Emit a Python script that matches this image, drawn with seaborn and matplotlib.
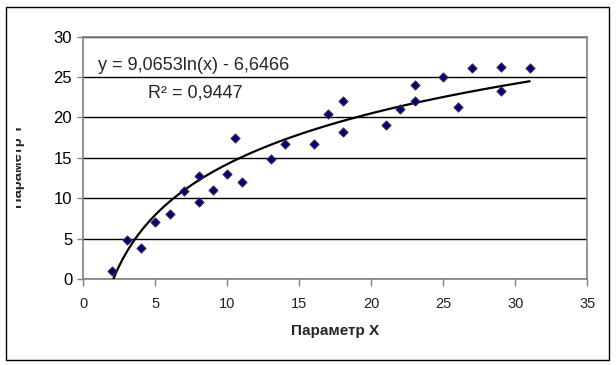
import numpy as np
import pandas as pd
import matplotlib
matplotlib.use("Agg")
import matplotlib.pyplot as plt
import seaborn as sns
from matplotlib.patches import Rectangle
from matplotlib.transforms import Bbox, TransformedBbox

# values
param_x = [2, 3, 4, 5, 6, 7, 8, 8, 9, 10, 10.5, 11, 13, 14, 16, 17, 18, 18,
           21, 22, 23, 23, 25, 26, 27, 29, 29, 31]
param_y = [1.0, 4.85, 3.9, 7.05, 8.05, 10.95, 12.7, 9.5, 11.0, 12.95, 17.4, 12.0, 14.9,
           16.75, 16.75, 20.4, 18.15, 22.0, 19.1, 21.0, 22.05, 24.0, 25.0, 21.35,
           26.15, 26.3, 23.3, 26.15]
# trendline coefficients as printed on the chart
trend_a = 9.0653
trend_b = -6.6466
eq_text = "y = 9,0653ln(x) - 6,6466"
r2_text = "R² = 0,9447"
x_ticks = [0, 5, 10, 15, 20, 25, 30, 35]
y_ticks = [0, 5, 10, 15, 20, 25, 30]

df = pd.DataFrame({"x": param_x, "y": param_y})
tx = np.linspace(min(param_x), max(param_x), 80)
trend = pd.DataFrame({"x": tx, "y": trend_a * np.log(tx) + trend_b})

sns.set_theme(style="white")
plt.rcParams["font.family"] = ["Liberation Sans", "DejaVu Sans"]

W, H = 616, 365
fig = plt.figure(figsize=(W / 100, H / 100), dpi=100)
ax = fig.add_axes([83.3 / W, 1 - 279 / H, 504 / W, 242.3 / H])

sns.lineplot(data=trend, x="x", y="y", color="black", lw=1.6, ax=ax, zorder=3)
sns.scatterplot(data=df, x="x", y="y", marker="D", s=22, color="#000080",
                edgecolor="#3a3a3a", linewidth=0.7, ax=ax, zorder=4)

ax.set_xlim(0, 35)
ax.set_ylim(0, 30)
ax.set_xticks(x_ticks)
ax.set_yticks(y_ticks)
ax.yaxis.grid(True, color="black", lw=1)
ax.set_axisbelow(True)
for s in ax.spines.values():
    s.set_color("#808080")
    s.set_linewidth(1.2)
ax.tick_params(axis="y", which="both", left=True, length=4, width=1, color="#808080",
               labelsize=12, pad=4, labelcolor="black")
ax.tick_params(axis="x", which="both", bottom=True, length=5, width=1, color="#808080",
               labelsize=10.5, pad=8, labelcolor="#222222")
ax.set_xlabel("Параметр X", fontsize=11, fontweight="bold", labelpad=9)
ax.set_ylabel("")

fig.text(98 / W, 1 - 65 / H, eq_text, fontsize=13, va="center", ha="left")
fig.text(148 / W, 1 - 93 / H, r2_text, fontsize=13, va="center", ha="left")

# y label: partly cut off at the left, as in the reference
ylab = fig.text(25 / W, 1 - 166 / H, "Параметр Y", rotation=90, fontsize=10.5,
                fontweight="bold", ha="right", va="center")
ylab.set_clip_box(TransformedBbox(Bbox([[16 / W, 0], [1, 1]]), fig.transFigure))
ylab.set_clip_on(True)

fig.patches.append(Rectangle((6 / W, 1 - 360 / H), 603 / W, 353 / H,
                             transform=fig.transFigure, fill=False, ec="black", lw=1))

fig.savefig("out.png", dpi=100)
